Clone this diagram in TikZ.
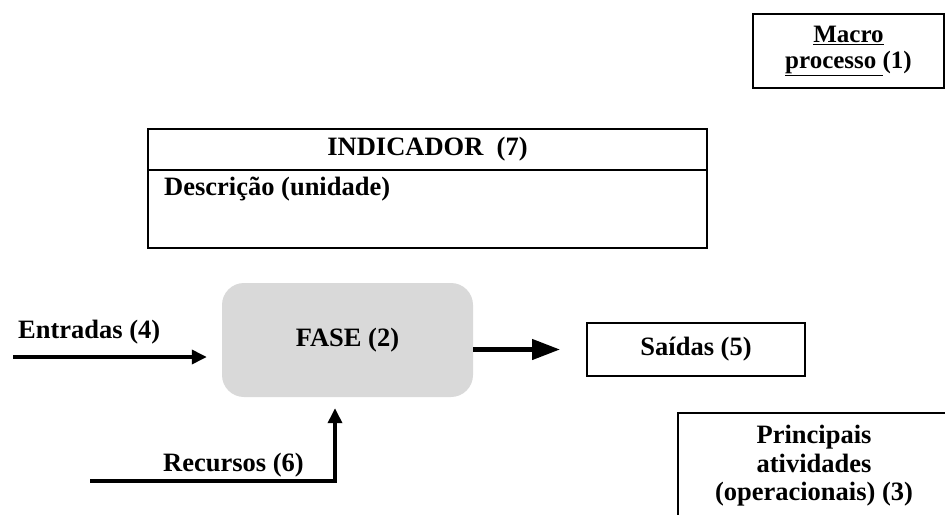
\documentclass[tikz,border=0pt]{standalone}
\usepackage{fontspec}
\setmainfont{Liberation Serif}
\usetikzlibrary{positioning,calc,arrows.meta}
\tikzset{
    box/.style = {
        draw,
        line width=1.5pt,
        inner sep=0pt,
        outer sep=0pt,
        align=center,
        },
    fase box/.style = {
        fill = gray!30,
        rounded corners=22pt,
        minimum width=251pt,
        minimum height=114pt,
        },
    flow/.style = {
        line width=3.5pt,
        -{Triangle[length=15pt,width=14pt]},
        },
    flow out/.style = {
        line width=4.5pt,
        -{Triangle[length=28pt,width=20pt]},
        },
    flowtext/.style = {
        anchor=west,
        inner sep=0pt,
        },
}

\begin{document}
\begin{tikzpicture}[x=1pt, y=-1pt, font=\bfseries\fontsize{26.5}{28}\selectfont]
            \useasboundingbox (0,0) rectangle (945,514);

            \node[box, minimum width=191pt, minimum height=74pt, font=\bfseries\fontsize{25}{27}\selectfont] (macro) at (848.5,51) {\underline{Macro}\\[-1pt]\underline{processo\ }(1)};
            \node[box, minimum width=559pt, minimum height=41pt] (indicador) at (427.5,149.5) {INDICADOR\ \ (7)};
            \node[box, minimum width=559pt, minimum height=78pt, below=0pt of indicador] (descricao) {};
            \node[flowtext, anchor=north west] (descricao text) at ([xshift=16pt, yshift=-7pt]descricao.north west) {Descrição (unidade)};
            \node[fase box] (fase) at (347.5,340) {FASE (2)};
            \node[box, minimum width=218pt, minimum height=53pt] (saidas) at (696,349.5) {Saídas (5)};
            \node[box, minimum width=272pt, minimum height=106pt, font=\bfseries\fontsize{26.5}{28.5}\selectfont] (atividades) at (814,466) {Principais\\atividades\\(operacionais) (3)};

            \coordinate (entrada) at (13,357);
            \coordinate (recurso) at (90,481);
            \node[flowtext] (entrada text) at (18,332) {Entradas (4)};
            \node[flowtext] (recurso text) at (163,465) {Recursos (6)};

            \draw[flow, shorten >=15pt] (entrada) -- (entrada -| fase.west);
            \draw[flow, shorten >=11pt] (recurso) -| ([xshift=-12.5pt]fase.south);
            \draw[flow out, shorten >=27pt] (fase.east |- saidas.west) -- (saidas.west);
        \end{tikzpicture}
\end{document}
